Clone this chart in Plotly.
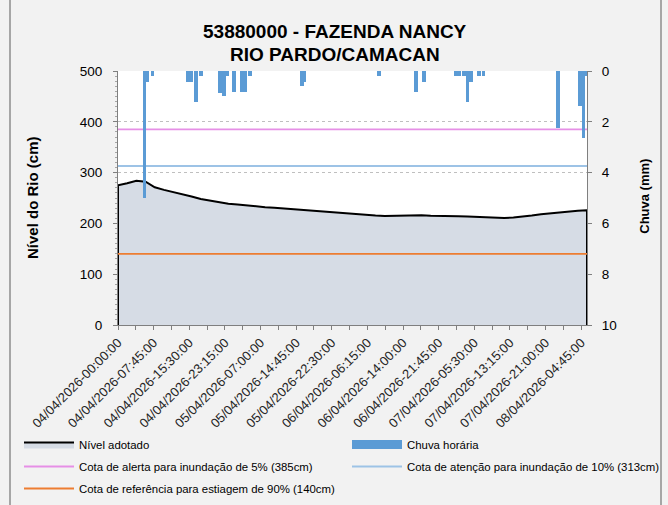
import pandas as pd
import plotly.graph_objects as go

# ---------------- data ----------------
title_lines = ["53880000 - FAZENDA NANCY", "RIO PARDO/CAMACAN"]

level_start = "2026-04-04 00:00"
level_step_hours = 2
level_cm = [275, 279, 284, 282, 271, 266, 262, 258, 253, 248, 244.5, 241, 238.5,
            237, 235, 233.5, 232, 231, 229.5, 228, 227, 225.5, 224, 223, 221, 219,
            217.5, 216.5, 215.5, 214.5, 215, 215.5, 216, 216, 215, 215, 214.5, 214,
            213.5, 212.5, 212, 211, 210.5, 211.5, 213, 215.5, 218, 220, 222, 223.5,
            225, 226]

rain_times = ["2026-04-04 05:45", "2026-04-04 06:15", "2026-04-04 07:30",
              "2026-04-04 15:15", "2026-04-04 16:00", "2026-04-04 17:00",
              "2026-04-04 18:00", "2026-04-04 22:15", "2026-04-04 23:00",
              "2026-04-04 23:45", "2026-04-05 01:15", "2026-04-05 03:00",
              "2026-04-05 03:45", "2026-04-05 04:45", "2026-04-05 16:00",
              "2026-04-05 16:30", "2026-04-06 08:45", "2026-04-06 16:45",
              "2026-04-06 18:30", "2026-04-07 01:30", "2026-04-07 02:15",
              "2026-04-07 03:15", "2026-04-07 04:00", "2026-04-07 04:45",
              "2026-04-07 06:30", "2026-04-07 07:30", "2026-04-07 23:45",
              "2026-04-08 04:30", "2026-04-08 05:15", "2026-04-08 05:45"]
rain_mm = [5.0, 0.45, 0.2, 0.43, 0.43, 1.22, 0.2, 0.85, 1.0, 0.2, 0.83, 0.83,
           0.83, 0.2, 0.6, 0.43, 0.2, 0.84, 0.45, 0.2, 0.2, 0.2, 1.23, 0.45,
           0.2, 0.2, 2.25, 1.37, 2.65, 0.2]

tick_labels = ["04/04/2026-00:00:00", "04/04/2026-07:45:00", "04/04/2026-15:30:00",
               "04/04/2026-23:15:00", "05/04/2026-07:00:00", "05/04/2026-14:45:00",
               "05/04/2026-22:30:00", "06/04/2026-06:15:00", "06/04/2026-14:00:00",
               "06/04/2026-21:45:00", "07/04/2026-05:30:00", "07/04/2026-13:15:00",
               "07/04/2026-21:00:00", "08/04/2026-04:45:00"]
x_end = "2026-04-08 06:00"

cota_alerta = 385
cota_atencao = 313
cota_estiagem = 140

names = ["Nível adotado", "Chuva horária",
         "Cota de alerta para inundação de 5% (385cm)",
         "Cota de atenção para inundação de 10% (313cm)",
         "Cota de referência para estiagem de 90% (140cm)"]

# ---------------- build ----------------
level_times = pd.date_range(level_start, periods=len(level_cm),
                            freq=f"{level_step_hours}h")
tickvals = [pd.to_datetime(t, format="%d/%m/%Y-%H:%M:%S") for t in tick_labels]
x0 = level_times[0]
x1 = pd.Timestamp(x_end)
tick_step_ms = (tickvals[1] - tickvals[0]).total_seconds() * 1000

poly_x = [level_times[0]] + list(level_times) + [level_times[-1]]
poly_y = [0] + level_cm + [0]

RAIN_COLOR = "#5b9bd5"

fig = go.Figure()
fig.add_trace(go.Scatter(x=poly_x, y=poly_y, mode="lines", fill="toself",
                         fillcolor="#d6dce5", line=dict(color="black", width=2),
                         name=names[0], hoverinfo="skip",
                         legend="legend", legendgroup="a"))
fig.add_trace(go.Bar(x=pd.to_datetime(rain_times), y=rain_mm, yaxis="y2",
                     marker=dict(color=RAIN_COLOR, line=dict(width=0)),
                     width=0.8 * 3600 * 1000, name=names[1], showlegend=False,
                     legendgroup="b"))
# legend-only entry so that the rain key is drawn as a wide block
fig.add_trace(go.Scatter(x=[None], y=[None], mode="lines", name=names[1],
                         line=dict(color=RAIN_COLOR, width=9),
                         legend="legend2", legendgroup="b"))
for val, col, nm, lg, grp in [(cota_alerta, "#e68fe6", names[2], "legend", "c"),
                              (cota_atencao, "#9dc3e6", names[3], "legend2", "d"),
                              (cota_estiagem, "#ed7d31", names[4], "legend", "e")]:
    fig.add_trace(go.Scatter(x=[x0, x1], y=[val, val], mode="lines",
                             line=dict(color=col, width=1.8), name=nm,
                             legend=lg, legendgroup=grp))

font_main = "Liberation Sans, Arial, sans-serif"
leg_font = dict(size=11.4, family="Liberation Sans, Arial", color="black")

fig.update_layout(
    width=668, height=505,
    margin=dict(l=118, r=81, t=71, b=180, autoexpand=False),
    paper_bgcolor="#f2f2f2", plot_bgcolor="white",
    font=dict(family=font_main, color="black", size=12),
    barmode="overlay", bargap=0,
    showlegend=True,
    xaxis=dict(type="date", range=[x0, x1], tickvals=tickvals, ticktext=tick_labels,
               tickangle=-45, tickfont=dict(size=13, color="#262626"),
               showgrid=False, showline=True, linecolor="#7f7f7f", linewidth=1,
               ticks="outside", ticklen=4, tickcolor="#7f7f7f", zeroline=False,
               automargin=False,
               minor=dict(tick0=x0, dtick=tick_step_ms / 2, ticks="outside",
                          ticklen=4, tickcolor="#7f7f7f", showgrid=False)),
    yaxis=dict(range=[0, 500], dtick=100, showgrid=True, gridcolor="#bfbfbf",
               griddash="dot", gridwidth=1, zeroline=False,
               showline=True, linecolor="#7f7f7f", linewidth=1,
               ticks="outside", ticklen=4, tickcolor="#7f7f7f",
               tickfont=dict(size=13.5), ticklabelstandoff=8, automargin=False,
               minor=dict(dtick=10, ticks="outside", ticklen=2, tickcolor="#a6a6a6",
                          showgrid=False)),
    yaxis2=dict(range=[10, 0], dtick=2, overlaying="y", side="right",
                showgrid=False, zeroline=False, showline=True, linecolor="#7f7f7f",
                linewidth=1, ticks="outside", ticklen=4, tickcolor="#7f7f7f",
                tickfont=dict(size=13.5), ticklabelstandoff=7, automargin=False),
    legend=dict(orientation="v", xref="container", yref="container",
                x=19 / 668, xanchor="left", y=1 - 430 / 505, yanchor="top",
                itemwidth=50, tracegroupgap=3, font=leg_font,
                bgcolor="rgba(0,0,0,0)", traceorder="grouped"),
    legend2=dict(orientation="v", xref="container", yref="container",
                 x=347 / 668, xanchor="left", y=1 - 430 / 505, yanchor="top",
                 itemwidth=50, tracegroupgap=3, font=leg_font,
                 bgcolor="rgba(0,0,0,0)", traceorder="grouped"),
    annotations=[
        dict(text="<b>" + title_lines[0] + "</b>", x=0.463, y=(325 - 31) / 254,
             xref="paper", yref="paper", showarrow=False, xanchor="center",
             yanchor="middle", font=dict(size=19, family=font_main)),
        dict(text="<b>" + title_lines[1] + "</b>", x=0.463, y=(325 - 55) / 254,
             xref="paper", yref="paper", showarrow=False, xanchor="center",
             yanchor="middle", font=dict(size=19, family=font_main)),
        dict(text="<b>Nível do Rio (cm)</b>", x=(32 - 118) / 469, y=0.5,
             xref="paper", yref="paper", textangle=-90, showarrow=False,
             xanchor="center", yanchor="middle", font=dict(size=15)),
        dict(text="<b>Chuva (mm)</b>", x=(645 - 118) / 469, y=0.505,
             xref="paper", yref="paper", textangle=-90, showarrow=False,
             xanchor="center", yanchor="middle", font=dict(size=13)),
    ],
    shapes=[
        dict(type="line", xref="paper", yref="paper", layer="above",
             x0=(10 - 118) / 469, x1=(10 - 118) / 469, y0=-0.76, y1=1.33,
             line=dict(color="#8c8c8c", width=1.5)),
        dict(type="line", xref="paper", yref="paper", layer="above",
             x0=(661 - 118) / 469, x1=(661 - 118) / 469, y0=-0.76, y1=1.33,
             line=dict(color="#8c8c8c", width=1.5)),
    ],
)

fig.write_html("out.html", config={"displayModeBar": False},
               post_script="document.body.style.margin='0';"
                           "document.documentElement.style.overflow='hidden';"
                           "document.body.style.overflow='hidden';")
